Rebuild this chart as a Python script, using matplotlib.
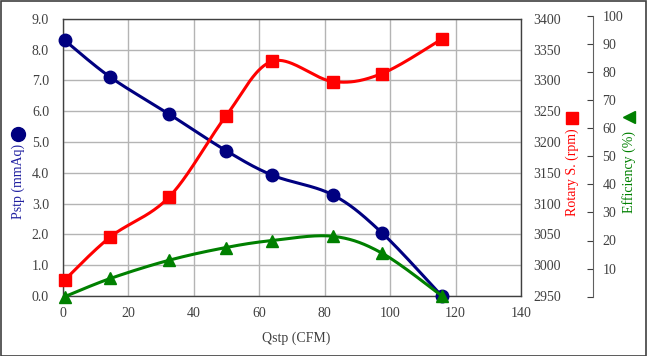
import matplotlib
matplotlib.use('Agg')
import matplotlib.pyplot as plt
import numpy as np
from matplotlib.lines import Line2D
from matplotlib.patches import Rectangle

# ---- data ----
q = [0.5, 14.5, 32.5, 49.8, 64.0, 82.5, 97.5, 115.8]
pstp = [8.3, 7.1, 5.9, 4.72, 3.92, 3.28, 2.05, 0.0]
rpm = [2976, 3046, 3111, 3242, 3331, 3298, 3311, 3367]
eff = [0.0, 6.5, 13.0, 17.5, 20.0, 21.5, 15.5, 0.3]

x_ticks = [0, 20, 40, 60, 80, 100, 120, 140]
p_ticks = [0, 1, 2, 3, 4, 5, 6, 7, 8, 9]
r_ticks = [2950, 3000, 3050, 3100, 3150, 3200, 3250, 3300, 3350, 3400]
e_ticks = [0, 10, 20, 30, 40, 50, 60, 70, 80, 90, 100]

NAVY = '#000080'
RED = '#FF0000'
GREEN = '#008000'
TICKC = '#404040'

plt.rcParams['font.family'] = ['Liberation Serif', 'DejaVu Serif']
plt.rcParams['font.size'] = 10


def smooth(x, y, n=40):
    P = np.column_stack([x, y]).astype(float)
    P = np.vstack([P[0], P, P[-1]])
    t = np.linspace(0, 1, n)[:, None]
    pts = []
    for i in range(1, len(P) - 2):
        p0, p1, p2, p3 = P[i - 1], P[i], P[i + 1], P[i + 2]
        c = 0.5 * (2 * p1 + (-p0 + p2) * t + (2 * p0 - 5 * p1 + 4 * p2 - p3) * t ** 2
                   + (-p0 + 3 * p1 - 3 * p2 + p3) * t ** 3)
        pts.append(c if i == 1 else c[1:])
    c = np.vstack(pts)
    return c[:, 0], c[:, 1]


W, H = 647, 356
fig = plt.figure(figsize=(W / 100, H / 100), dpi=100)

def fx(px):
    return px / W

def fy(py):
    return 1 - py / H

L, R, T, B = 63, 521, 18.7, 296
ax = fig.add_axes([fx(L), fy(B), fx(R) - fx(L), fy(T) - fy(B)])
ax.set_xlim(0, 140)
ax.set_ylim(0, 9)
ax.set_xticks(x_ticks)
ax.set_yticks(p_ticks)
ax.set_yticklabels([f'{v:.1f}' for v in p_ticks])
ax.grid(True, color='#B4B4B4', linewidth=1)
ax.set_axisbelow(True)
for s in ax.spines.values():
    s.set_color('#404040')
    s.set_linewidth(1)
ax.tick_params(axis='both', length=0, colors=TICKC, labelsize=10)
ax.tick_params(axis='y', pad=10)
ax.tick_params(axis='x', pad=8)

ax2 = ax.twinx()
ax2.set_ylim(2950, 3400)
ax2.set_yticks(r_ticks)
ax2.tick_params(axis='y', length=0, colors=TICKC, labelsize=10, pad=9)
for s in ax2.spines.values():
    s.set_visible(False)

ax3 = fig.add_axes([fx(L), fy(296.7), fx(R) - fx(L), fy(15.7) - fy(296.7)])
ax3.patch.set_visible(False)
ax3.set_xlim(0, 140)
ax3.set_ylim(0, 100)
for k, s in ax3.spines.items():
    s.set_visible(k == 'right')
ax3.spines['right'].set_position(('axes', (592.7 - L) / (R - L)))
ax3.spines['right'].set_color('#606060')
ax3.xaxis.set_visible(False)
ax3.yaxis.tick_right()
ax3.set_yticks(e_ticks)
ax3.set_yticklabels(['' if v == 0 else str(v) for v in e_ticks])
ax3.tick_params(axis='y', direction='in', length=4, colors=TICKC, labelsize=10, pad=7)
ax3.tick_params(axis='y', color='#404040')

# ---- series ----
sx, sy = smooth(q, pstp)
ax.plot(sx, sy, color=NAVY, lw=2.2, zorder=3)
ax.plot(q, pstp, 'o', color=NAVY, ms=9, zorder=4, clip_on=False)

sx, sy = smooth(q, rpm)
ax2.plot(sx, sy, color=RED, lw=2.2, zorder=3)
ax2.plot(q, rpm, 's', color=RED, ms=9, zorder=4, clip_on=False)

sx, sy = smooth(q, eff)
ax3.plot(sx, sy, color=GREEN, lw=2.2, zorder=3)
ax3.plot(q, eff, '^', color=GREEN, ms=9, zorder=4, clip_on=False)

# ---- axis titles ----
fig.text(fx(296), fy(338), 'Qstp (CFM)', ha='center', va='center', color=TICKC, fontsize=10)
fig.text(fx(18), fy(181), 'Pstp (mmAq)', rotation=90, ha='center', va='center', color='#2020A0', fontsize=10)
fig.add_artist(Line2D([fx(18)], [fy(134)], marker='o', ms=10, color=NAVY, transform=fig.transFigure))
fig.text(fx(572), fy(172), 'Rotary S. (rpm)', rotation=90, ha='center', va='center', color=RED, fontsize=10)
fig.add_artist(Line2D([fx(572)], [fy(118)], marker='s', ms=9, color=RED, transform=fig.transFigure))
fig.text(fx(629), fy(172), 'Efficiency (%)', rotation=90, ha='center', va='center', color=GREEN, fontsize=10)
fig.add_artist(Line2D([fx(629)], [fy(117)], marker='<', ms=9, color=GREEN, transform=fig.transFigure))

fig.add_artist(Rectangle((0.0008, 0.0014), 0.9975, 0.9955, transform=fig.transFigure,
                         fill=False, edgecolor='#404040', linewidth=1.2))

fig.savefig('out.png', dpi=100)
